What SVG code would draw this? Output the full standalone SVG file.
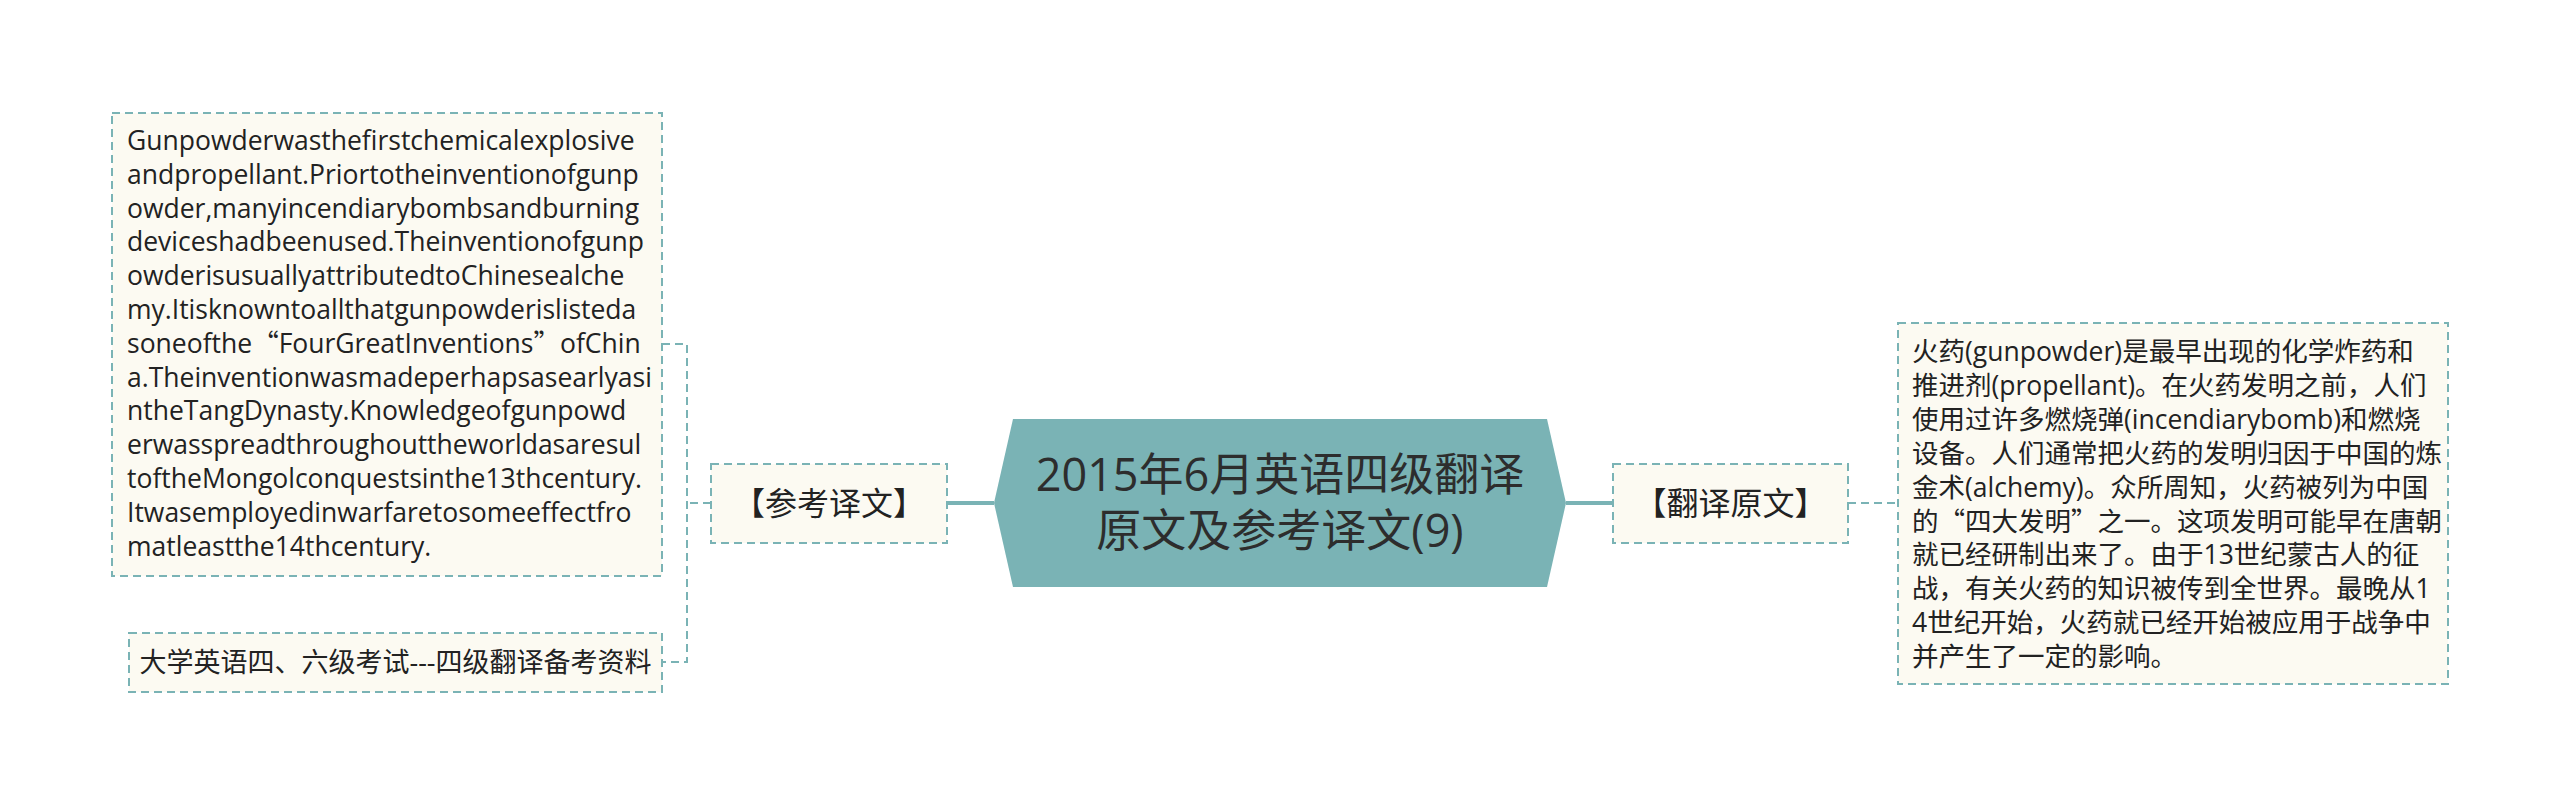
<svg xmlns="http://www.w3.org/2000/svg" width="2560" height="805" viewBox="0 0 2560 805">
<style>
.box{fill:#fcfaf2;stroke:#7ab3b5;stroke-width:2;stroke-dasharray:8 5}
.dash{fill:none;stroke:#7ab3b5;stroke-width:2;stroke-dasharray:8 5}
.solid{fill:none;stroke:#7ab3b5;stroke-width:4}
.t{font-family:"Open Sans","Noto Sans CJK SC",sans-serif;font-size:26.5px;fill:#222}
.lab{font-family:"Noto Sans CJK SC",sans-serif;font-size:32px;fill:#222;text-anchor:middle}
.title{font-family:"Open Sans","Noto Sans CJK SC",sans-serif;font-size:45px;fill:#2d2d2d;text-anchor:middle}
.q{font-family:"Noto Sans CJK SC",sans-serif}
</style>
<rect width="2560" height="805" fill="#ffffff"/>
<g id="connectors">
<line class="solid" x1="947" y1="503" x2="994" y2="503"/>
<line class="solid" x1="1566" y1="503" x2="1613" y2="503"/>
<polyline class="dash" points="711,503 687,503"/>
<polyline class="dash" points="662,344 687,344 687,662 662,662"/>
<line class="dash" x1="1848" y1="503" x2="1897" y2="503"/>
</g>
<g id="center">
<polygon points="1013,419 1547,419 1566,503 1547,587 1013,587 994,503" fill="#7ab3b5"/>
<text class="title" x="1280" y="491">2015年6月英语四级翻译</text>
<text class="title" x="1280" y="547">原文及参考译文(9)</text>
</g>
<g id="ref-label">
<rect class="box" x="711" y="464" width="236" height="79"/>
<text class="lab" x="829" y="515">【参考译文】</text>
</g>
<g id="orig-label">
<rect class="box" x="1613" y="464" width="235" height="79"/>
<text class="lab" x="1730.5" y="515">【翻译原文】</text>
</g>
<g id="english-text">
<rect class="box" x="112" y="113" width="550" height="463"/>
<text class="t" x="127" y="150">Gunpowderwasthefirstchemicalexplosive</text>
<text class="t" x="127" y="183.8">andpropellant.Priortotheinventionofgunp</text>
<text class="t" x="127" y="217.6">owder,manyincendiarybombsandburning</text>
<text class="t" x="127" y="251.4">deviceshadbeenused.Theinventionofgunp</text>
<text class="t" x="127" y="285.2">owderisusuallyattributedtoChinesealche</text>
<text class="t" x="127" y="319">my.Itisknowntoallthatgunpowderislisteda</text>
<text class="t" x="127" y="352.8">soneofthe<tspan class="q">“</tspan>FourGreatInventions<tspan class="q">”</tspan>ofChin</text>
<text class="t" x="127" y="386.6">a.Theinventionwasmadeperhapsasearlyasi</text>
<text class="t" x="127" y="420.4">ntheTangDynasty.Knowledgeofgunpowd</text>
<text class="t" x="127" y="454.2">erwasspreadthroughouttheworldasaresul</text>
<text class="t" x="127" y="488">toftheMongolconquestsinthe13thcentury.</text>
<text class="t" x="127" y="521.8">Itwasemployedinwarfaretosomeeffectfro</text>
<text class="t" x="127" y="555.6">matleastthe14thcentury.</text>
</g>
<g id="source-note">
<rect class="box" x="129" y="633" width="533" height="59"/>
<text class="t" x="395.5" y="672" text-anchor="middle" style="font-size:27px">大学英语四、六级考试---四级翻译备考资料</text>
</g>
<g id="chinese-text">
<rect class="box" x="1898" y="323" width="550" height="361"/>
<text class="t" x="1912" y="361">火药(gunpowder)是最早出现的化学炸药和</text>
<text class="t" x="1912" y="394.9">推进剂(propellant)。在火药发明之前，人们</text>
<text class="t" x="1912" y="428.8">使用过许多燃烧弹(incendiarybomb)和燃烧</text>
<text class="t" x="1912" y="462.7">设备。人们通常把火药的发明归因于中国的炼</text>
<text class="t" x="1912" y="496.6">金术(alchemy)。众所周知，火药被列为中国</text>
<text class="t" x="1912" y="530.5">的<tspan class="q">“</tspan>四大发明<tspan class="q">”</tspan>之一。这项发明可能早在唐朝</text>
<text class="t" x="1912" y="564.4">就已经研制出来了。由于13世纪蒙古人的征</text>
<text class="t" x="1912" y="598.3">战，有关火药的知识被传到全世界。最晚从1</text>
<text class="t" x="1912" y="632.2">4世纪开始，火药就已经开始被应用于战争中</text>
<text class="t" x="1912" y="666.1">并产生了一定的影响。</text>
</g>
</svg>
